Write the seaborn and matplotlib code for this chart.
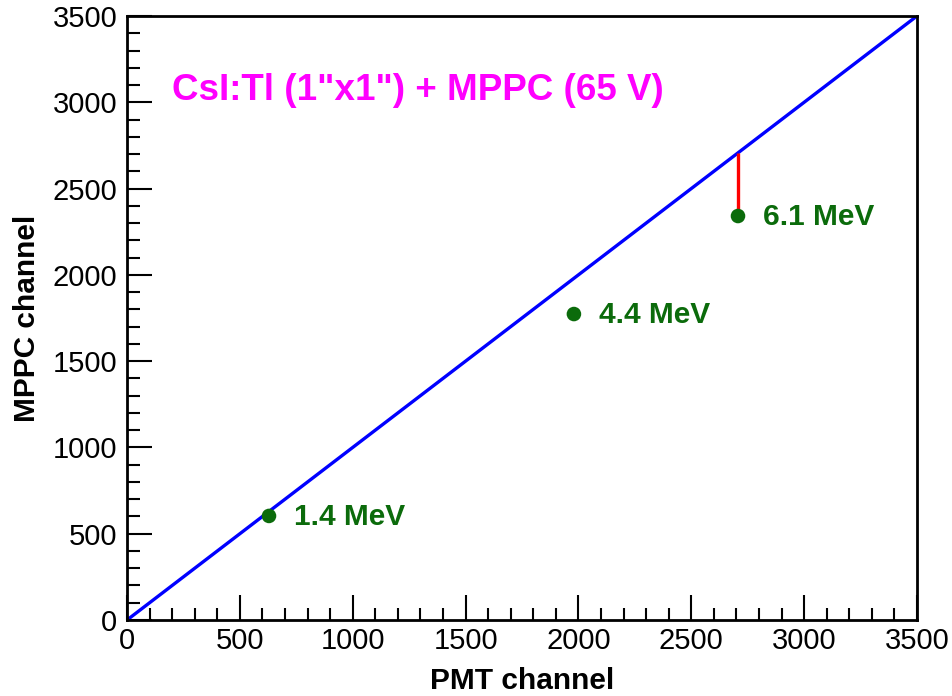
import numpy as np
import pandas as pd
import matplotlib
matplotlib.use("Agg")
import matplotlib.pyplot as plt
import seaborn as sns
from matplotlib.ticker import MultipleLocator

# Valeurs
pmt_channel = [629, 1980, 2707]
mppc_channel = [603, 1773, 2341]
energy_labels = ["1.4 MeV", "4.4 MeV", "6.1 MeV"]
fit_x = [0, 3500]
fit_y = [0, 3500]

sns.set_theme(style="ticks")
plt.rcParams['font.family'] = ['Liberation Sans', 'DejaVu Sans']

points = pd.DataFrame({'PMT': pmt_channel, 'MPPC': mppc_channel, 'label': energy_labels})
fit = pd.DataFrame({'PMT': fit_x, 'MPPC': fit_y})

fig = plt.figure(figsize=(9.53, 6.96), dpi=100)
ax = fig.add_axes([0.1333, 0.1092, 0.8289, 0.8678])

sns.lineplot(data=fit, x='PMT', y='MPPC', color='#0000ff', linewidth=2.4, ax=ax)

# écart entre le point à 6.1 MeV et la droite
slope = (fit_y[1] - fit_y[0]) / (fit_x[1] - fit_x[0])
ax.vlines(pmt_channel[2], mppc_channel[2], fit_y[0] + slope * pmt_channel[2],
          color='#ff0000', linewidth=2.4, zorder=3)

sns.scatterplot(data=points, x='PMT', y='MPPC', color='#0b6b0b', s=110,
                edgecolor='none', zorder=4, ax=ax)

for _, row in points.iterrows():
    ax.text(row['PMT'] + 112, row['MPPC'] - 5, row['label'], color='#0b6b0b',
            fontsize=21.5, fontweight='bold', va='center', ha='left')

ax.text(199, 3070, "CsI:Tl (1\"x1\") + MPPC (65 V)", color='#ff00ff',
        fontsize=26.5, fontweight='bold', va='center', ha='left')

ax.set_xlim(0, 3500)
ax.set_ylim(0, 3500)
ax.xaxis.set_major_locator(MultipleLocator(500))
ax.yaxis.set_major_locator(MultipleLocator(500))
ax.xaxis.set_minor_locator(MultipleLocator(100))
ax.yaxis.set_minor_locator(MultipleLocator(100))
ax.tick_params(which='major', direction='in', length=18, width=1.5, labelsize=21,
               pad=5, colors='black')
ax.tick_params(which='minor', direction='in', length=9, width=1.5, colors='black')
ax.tick_params(axis='y', pad=7)
for sp in ax.spines.values():
    sp.set_visible(True)
    sp.set_linewidth(2)
    sp.set_color('black')

ax.set_xlabel('PMT channel', fontsize=21.5, fontweight='bold', labelpad=9, color='black')
ax.set_ylabel('MPPC channel', fontsize=21.5, fontweight='bold', labelpad=8, color='black')

fig.savefig('out.png', dpi=100)
